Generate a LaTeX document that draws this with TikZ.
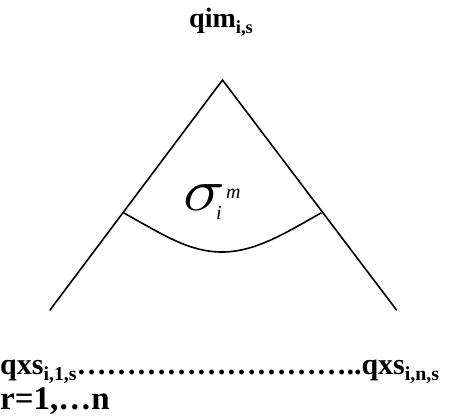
\documentclass[tikz,border=0pt]{standalone}
\usepackage{fontspec}
\setmainfont{Liberation Serif}
\usetikzlibrary{positioning}

\newcommand{\lowidx}[1]{\raisebox{-0.22em}{\scalebox{0.66}{#1}}}

\begin{document}
\begin{tikzpicture}[
        x=1pt, y=-1pt,
        edge/.style={line width=1.6pt, line cap=round},
        head/.style={font=\fontsize{28}{32}\selectfont\bfseries, inner sep=0pt, anchor=base},
        foot/.style={font=\fontsize{30}{34}\selectfont\bfseries, inner sep=0pt, anchor=base west},
        counter/.style={font=\fontsize{33}{36}\selectfont\bfseries, inner sep=0pt, anchor=base west},
        sym/.style={font=\fontsize{20}{20}\selectfont\itshape, inner sep=0pt}
    ]
    \useasboundingbox (0,0) rectangle (449,416);

    \node[head] (top) at (221,27) {qim\lowidx{i,s}};

    \coordinate (apex) at (222.5,80);
    \coordinate (lend) at (50,310);
    \coordinate (rend) at (396.5,310);
    \coordinate (al) at (124,213);
    \coordinate (ar) at (321,213);

    \draw[edge] (lend) -- (apex) -- (rend);
    \draw[edge] (al) .. controls (165,236) and (190,252) .. (222,252)
                     .. controls (256,252) and (287,232) .. (ar);

    \node[sym] (sig) at (212,202) {\scalebox{3.4}[2.9]{$\sigma$}\rlap{\kern-0.45em\raisebox{-0.45em}{i}}\kern0.05em\raisebox{0.6em}{m}};

    \node[foot] (leaves) at (0,374) {qxs\lowidx{i,1,s}………………………..qxs\lowidx{i,n,s}};
    \node[counter] (idx) at (0,409) {r=1,…n};
\end{tikzpicture}
\end{document}
